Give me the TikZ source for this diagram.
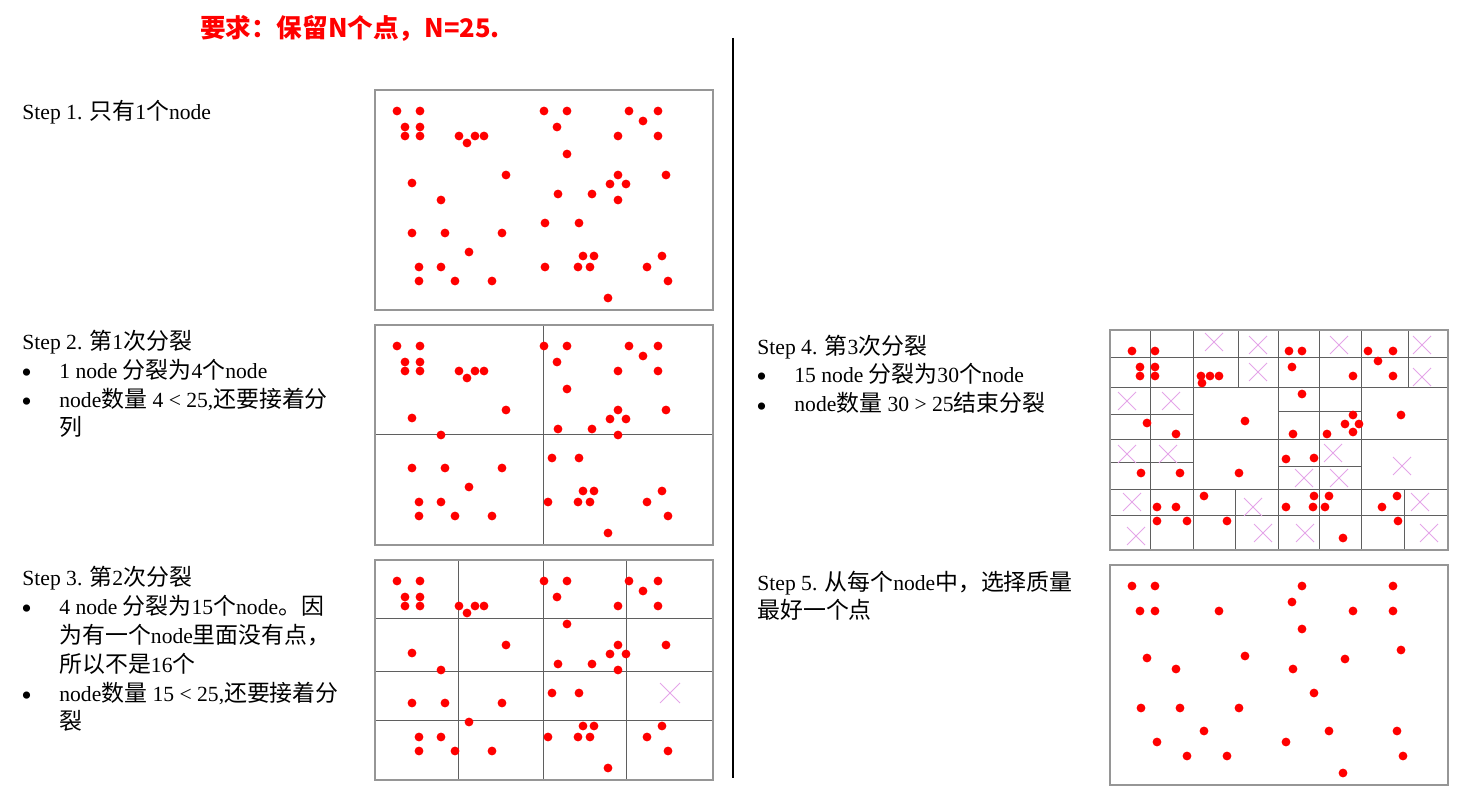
\documentclass[tikz,border=0pt]{standalone}
\usepackage{fontspec}
\setmainfont{Liberation Serif}
\newfontfamily\zhfont[Scale=1.06]{Noto Sans CJK SC}
\newfontfamily\zhhead{Noto Sans CJK SC}
\newcommand{\zh}[1]{{\zhfont #1}}
\usetikzlibrary{positioning}
\definecolor{ptred}{RGB}{255,0,0}
\definecolor{crosspink}{RGB}{228,165,232}
\definecolor{framegray}{RGB}{150,150,150}
\definecolor{gridgray}{RGB}{95,95,95}

\tikzset{
  txt/.style={anchor=base west, inner sep=0pt, font=\fontsize{10.8}{14}\selectfont},
  bullet/.style={anchor=base west, inner sep=0pt, font=\fontsize{15}{15}\selectfont},
  headline/.style={inner sep=0pt, text=ptred, font=\zhhead\bfseries\fontsize{12.8}{15}\selectfont},
  frame/.style={draw=framegray, line width=0.6pt},
  cell/.style={draw=gridgray, line width=0.5pt},
  pt/.style={fill=ptred},
  cross/.style={draw=crosspink, line width=0.5pt}
}

\newcommand{\ptsOne}{22/21, 45/21, 30/37, 45/37, 30/46, 45/46, 84/46, 92/53, 100/46, 109/46,
  169/21, 192/21, 182/37, 192/64, 254/21, 283/21, 268/31, 243/46, 283/46, 131/85, 37/93,
  66/110, 243/85, 235/94, 251/94, 243/110, 291/85, 183/104, 217/104, 37/143, 70/143,
  127/143, 94/162, 44/177, 66/177, 44/191, 80/191, 117/191, 170/133, 204/133, 208/166,
  219/166, 170/177, 203/177, 215/177, 287/166, 272/177, 293/191, 233/208}
\newcommand{\ptsTwo}{22/21, 45/21, 30/37, 45/37, 30/46, 45/46, 84/46, 92/53, 100/46, 109/46,
  169/21, 192/21, 182/37, 192/64, 254/21, 283/21, 268/31, 243/46, 283/46, 131/85, 37/93,
  66/110, 243/85, 235/94, 251/94, 243/110, 291/85, 183/104, 217/104, 37/143, 70/143,
  127/143, 94/162, 44/177, 66/177, 44/191, 80/191, 117/191, 177/133, 204/133, 208/166,
  219/166, 173/177, 203/177, 215/177, 287/166, 272/177, 293/191, 233/208}
\newcommand{\ptsFour}{22/21, 45/21, 30/37, 45/37, 30/46, 45/46, 91/46, 100/46, 109/46, 92/53,
  179/21, 192/21, 182/37, 243/46, 258/21, 283/21, 268/31, 283/46, 192/64, 135/91, 37/93,
  66/104, 243/85, 235/94, 249/94, 243/102, 291/85, 183/104, 217/104, 176/129, 204/128,
  31/143, 70/143, 129/143, 94/166, 47/177, 66/177, 47/191, 77/191, 117/191, 176/177,
  204/166, 219/166, 203/177, 215/177, 287/166, 272/177, 288/191, 233/208}
\newcommand{\ptsFive}{22/21, 45/21, 30/46, 45/46, 109/46, 192/21, 182/37, 243/46, 283/21,
  283/46, 192/64, 135/91, 37/93, 66/104, 291/85, 235/94, 183/104, 204/128, 31/143, 70/143,
  129/143, 94/166, 219/166, 287/166, 47/177, 176/177, 77/191, 117/191, 293/191, 233/208}
\newcommand{\crossFour}{104/12, 148/15, 229/15, 312/15, 148/42, 312/47, 17/71, 61/71, 17/124,
  58/124, 223/123, 292/136, 194/148, 229/148, 22/172, 143/177, 310/172, 26/206, 153/203,
  195/203, 319/203}

\begin{document}
\begin{tikzpicture}[x=0.5pt, y=-0.5pt]
\useasboundingbox (0,0) rectangle (1458,802);

\node[headline] (head) at (350,28) {要求：保留N个点，N=25.};

\coordinate (divtop) at (733,38);
\coordinate (divbot) at (733,778);
\draw[line width=0.7pt] (divtop) -- (divbot);

\node[txt] (step1) at (22,120) {Step 1. \zh{只有}1\zh{个}node};

\node[txt] (step2) at (22,350) {Step 2. \zh{第}1\zh{次分裂}};
\node[bullet] (dot21) at (21,383) {•};
\node[txt] (item21) at (59,379) {1 node \zh{分裂为}4\zh{个}node};
\node[bullet] (dot22) at (21,412) {•};
\node[txt] (item22) at (59,408) {node\zh{数量} 4 < 25,\zh{还要接着分}};
\node[txt] (item22b) at (59,436) {\zh{列}};

\node[txt] (step3) at (22,585) {Step 3. \zh{第}2\zh{次分裂}};
\node[bullet] (dot31) at (21,618) {•};
\node[txt] (item31) at (59,614) {4 node \zh{分裂为}15\zh{个}node\zh{。因}};
\node[txt] (item31b) at (59,643) {\zh{为有一个}node\zh{里面没有点，}};
\node[txt] (item31c) at (59,672) {\zh{所以不是}16\zh{个}};
\node[bullet] (dot32) at (21,705) {•};
\node[txt] (item32) at (59,701) {node\zh{数量} 15 < 25,\zh{还要接着分}};
\node[txt] (item32b) at (59,729) {\zh{裂}};

\node[txt] (step4) at (757,355) {Step 4. \zh{第}3\zh{次分裂}};
\node[bullet] (dot41) at (756,387) {•};
\node[txt] (item41) at (794,383) {15 node \zh{分裂为}30\zh{个}node};
\node[bullet] (dot42) at (756,416) {•};
\node[txt] (item42) at (794,412) {node\zh{数量} 30 > 25\zh{结束分裂}};

\node[txt] (step5) at (757,590) {Step 5. \zh{从每个}node\zh{中，选择质量}};
\node[txt] (step5b) at (757,618) {\zh{最好一个点}};

\begin{scope}[shift={(375,90)}]
  \draw[frame] (0,0) rectangle (338,220);
  \foreach \x/\y in \ptsOne \fill[pt] (\x,\y) circle[radius=2.2pt];
\end{scope}

\begin{scope}[shift={(375,325)}]
  \draw[cell] (168.5,0) -- (168.5,220) (0,110) -- (338,110);
  \draw[frame] (0,0) rectangle (338,220);
  \foreach \x/\y in \ptsTwo \fill[pt] (\x,\y) circle[radius=2.2pt];
\end{scope}

\begin{scope}[shift={(375,560)}]
  \foreach \x in {83.3,168.7,251} \draw[cell] (\x,0) -- (\x,220);
  \foreach \y in {58.3,111,160} \draw[cell] (0,\y) -- (338,\y);
  \draw[frame] (0,0) rectangle (338,220);
  \draw[cross] (285,123) -- (305,143) (285,143) -- (305,123);
  \foreach \x/\y in \ptsTwo \fill[pt] (\x,\y) circle[radius=2.2pt];
\end{scope}

\begin{scope}[shift={(1110,330)}]
  \foreach \x in {40.7,83.3,168.3,209.3,251} \draw[cell] (\x,0) -- (\x,220);
  \foreach \y in {27.7,57.3,110,159.3,185.7} \draw[cell] (0,\y) -- (338,\y);
  \draw[cell] (128.3,0) -- (128.3,57.3) (298.3,0) -- (298.3,57.3)
    (125,159.3) -- (125,220) (294,159.3) -- (294,220)
    (0,84.3) -- (83.3,84.3) (168.3,81.7) -- (251,81.7)
    (0,132.7) -- (83.3,132.7) (168.3,136.7) -- (251,136.7);
  \draw[frame] (0,0) rectangle (338,220);
  \foreach \x/\y in \crossFour
    \draw[cross] (\x-9,\y-9) -- (\x+9,\y+9) (\x-9,\y+9) -- (\x+9,\y-9);
  \foreach \x/\y in \ptsFour \fill[pt] (\x,\y) circle[radius=2.2pt];
\end{scope}

\begin{scope}[shift={(1110,565)}]
  \draw[frame] (0,0) rectangle (338,220);
  \foreach \x/\y in \ptsFive \fill[pt] (\x,\y) circle[radius=2.2pt];
\end{scope}
\end{tikzpicture}
\end{document}
